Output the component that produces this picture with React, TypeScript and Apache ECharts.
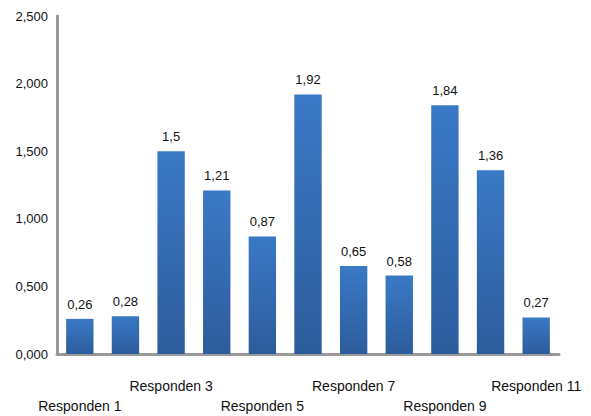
import React, { useEffect, useRef } from "react";
import * as echarts from "echarts";

const categories = [
  "Responden 1", "Responden 2", "Responden 3", "Responden 4", "Responden 5", "Responden 6",
  "Responden 7", "Responden 8", "Responden 9", "Responden 10", "Responden 11",
];
const values = [0.26, 0.28, 1.5, 1.21, 0.87, 1.92, 0.65, 0.58, 1.84, 1.36, 0.27];
const yTicks = [0, 0.5, 1, 1.5, 2, 2.5];

export default function App() {
  const ref = useRef<HTMLDivElement>(null);
  useEffect(() => {
    document.body.style.margin = "0";
    const chart = echarts.init(ref.current!, null, { renderer: "svg" });
    chart.setOption({
      animation: false,
      backgroundColor: "#ffffff",
      grid: { left: 57, right: 32, top: 16, bottom: 60 },
      xAxis: {
        type: "category",
        data: categories,
        axisLine: { lineStyle: { color: "#999999", width: 3 } },
        axisTick: { show: false },
        axisLabel: {
          interval: 0,
          margin: 22,
          color: "#111111",
          fontFamily: "Liberation Sans, Arial, sans-serif",
          fontSize: 14,
          lineHeight: 20,
          formatter: (v: string, i: number) => {
            if (i % 2 === 1) return "";
            return i % 4 === 0 ? "\n" + v : v;
          },
        },
      },
      yAxis: {
        type: "value",
        min: yTicks[0],
        max: yTicks[yTicks.length - 1],
        interval: 0.5,
        axisLine: { show: true, lineStyle: { color: "#999999", width: 3 } },
        axisTick: { show: false },
        splitLine: { show: false },
        axisLabel: {
          margin: 9,
          color: "#111111",
          fontFamily: "Liberation Sans, Arial, sans-serif",
          fontSize: 13,
          formatter: (v: number) => v.toFixed(3).replace(".", ","),
        },
      },
      series: [
        {
          type: "bar",
          data: values,
          barWidth: "60%",
          itemStyle: {
            color: new echarts.graphic.LinearGradient(0, 0, 0, 1, [
              { offset: 0, color: "#3a79c6" },
              { offset: 1, color: "#2d5c9c" },
            ]),
          },
          label: {
            show: true,
            position: "top",
            distance: 8,
            color: "#111111",
            fontFamily: "Liberation Sans, Arial, sans-serif",
            fontSize: 13,
            formatter: (p: any) => String(p.value).replace(".", ","),
          },
        },
      ],
    });
    return () => chart.dispose();
  }, []);
  return <div ref={ref} style={{ width: 591, height: 416 }} />;
}
